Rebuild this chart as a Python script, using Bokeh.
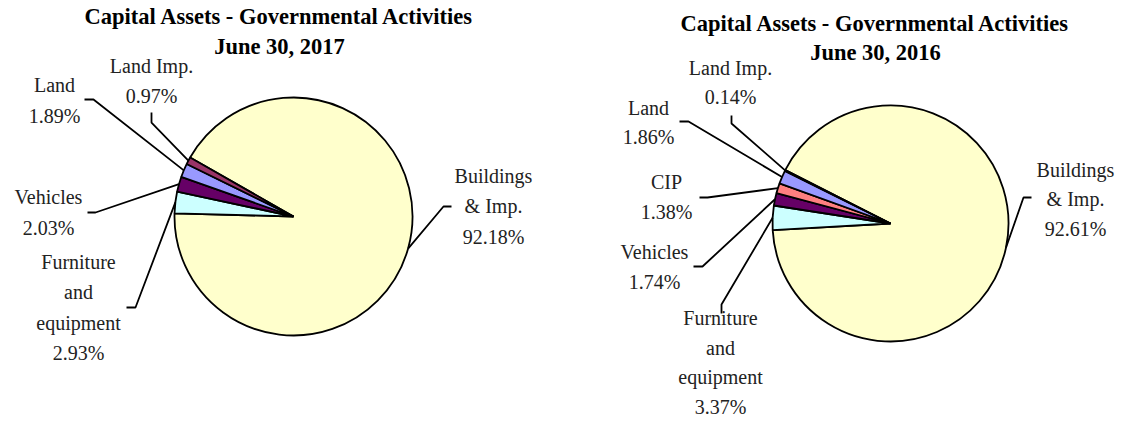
import numpy as np
from bokeh.plotting import figure
from bokeh.models import Range1d, ColumnDataSource
from bokeh.core.properties import value
from bokeh.embed import file_html
from bokeh.resources import INLINE

# ---------------- data ----------------
categories_2017 = ["Buildings\n& Imp.", "Furniture\nand\nequipment", "Vehicles", "Land", "Land Imp."]
values_2017 = [92.18, 2.93, 2.03, 1.89, 0.97]
colors_2017 = ["#FFFFCC", "#CCFFFF", "#660066", "#9999FF", "#993366"]

categories_2016 = ["Buildings\n& Imp.", "Furniture\nand\nequipment", "Vehicles", "CIP", "Land", "Land Imp."]
values_2016 = [92.61, 3.37, 1.74, 1.38, 1.86, 0.14]
colors_2016 = ["#FFFFCC", "#CCFFFF", "#660066", "#FF8080", "#9999FF", "#993366"]

titles = [["Capital Assets - Governmental Activities", "June 30, 2017"],
          ["Capital Assets - Governmental Activities", "June 30, 2016"]]

# ---------------- layout (screen pixel coordinates) ----------------
W, H = 1115, 422
TOP = 438

def Y(py):
    return TOP - py

p = figure(width=W, height=H, output_backend="svg", toolbar_location=None,
           x_range=Range1d(0, W), y_range=Range1d(Y(H), Y(0)),
           x_axis_type=None, y_axis_type=None, min_border=0)
p.outline_line_color = None
p.grid.visible = False
p.background_fill_color = "white"

FONT = value("Liberation Serif")

charts = [
    dict(cats=categories_2017, vals=values_2017, cols=colors_2017, title=titles[0],
         cx=293, cy=216, r=119, start=150.3,
         tx=279, ty=[16, 46], tsize="22.5px", lh=1.39,
         text_pos=[(493, 206), (78, 307), (48, 212), (54, 100), (151, 80.5)],
         ticks=[((451, 206), (443, 206)), ((126, 307), (135, 307)), ((87, 212), (95, 212)),
                ((84, 99), (93, 99)), ((151, 112), (151, 122))]),
    dict(cats=categories_2016, vals=values_2016, cols=colors_2016, title=titles[1],
         cx=890, cy=223, r=118, start=153,
         tx=875, ty=[23, 52], tsize="22.5px", lh=1.36,
         text_pos=[(1075, 199), (720, 362), (654, 266.5), (666, 196.5), (648, 122), (730, 82)],
         ticks=[((1031, 197), (1023, 197)), ((721, 313), (721, 304)), ((693, 266), (702, 266)),
                ((699, 197), (707, 197)), ((679, 121), (688, 121)), ((731, 115), (731, 123))]),
]

for c in charts:
    vals = np.array(c["vals"], dtype=float)
    sweep = vals / vals.sum() * 360.0
    ends_cum = np.cumsum(sweep)
    starts = c["start"] - np.concatenate([[0], ends_cum[:-1]])
    ends = c["start"] - ends_cum
    mids = (starts + ends) / 2.0

    src = ColumnDataSource(dict(x=[c["cx"]] * len(vals), y=[Y(c["cy"])] * len(vals),
                                s=np.radians(starts), e=np.radians(ends), color=c["cols"]))
    p.wedge(x="x", y="y", radius=c["r"], start_angle="s", end_angle="e",
            direction="clock", fill_color="color", line_color="black",
            line_width=1.8, source=src)

    # leader lines
    xs, ys = [], []
    for (a, b), m in zip(c["ticks"], mids):
        ex = c["cx"] + c["r"] * np.cos(np.radians(m))
        ey = Y(c["cy"]) + c["r"] * np.sin(np.radians(m))
        xs.append([a[0], b[0], ex])
        ys.append([Y(a[1]), Y(b[1]), ey])
    p.multi_line(xs=xs, ys=ys, line_color="black", line_width=1.8)

    # labels
    labels = [f"{cat}\n{v:.2f}%" for cat, v in zip(c["cats"], c["vals"])]
    p.text(x=[t[0] for t in c["text_pos"]], y=[Y(t[1]) for t in c["text_pos"]],
           text=labels, text_font=FONT, text_font_size="20px", text_color="#222222",
           text_align="center", text_baseline="middle", text_line_height=c["lh"])

    # title
    p.text(x=[c["tx"]] * 2, y=[Y(v) for v in c["ty"]], text=c["title"],
           text_font=FONT, text_font_size=c["tsize"], text_font_style="bold",
           text_color="black", text_align="center", text_baseline="middle")

open("out.html", "w").write(file_html(p, INLINE))
